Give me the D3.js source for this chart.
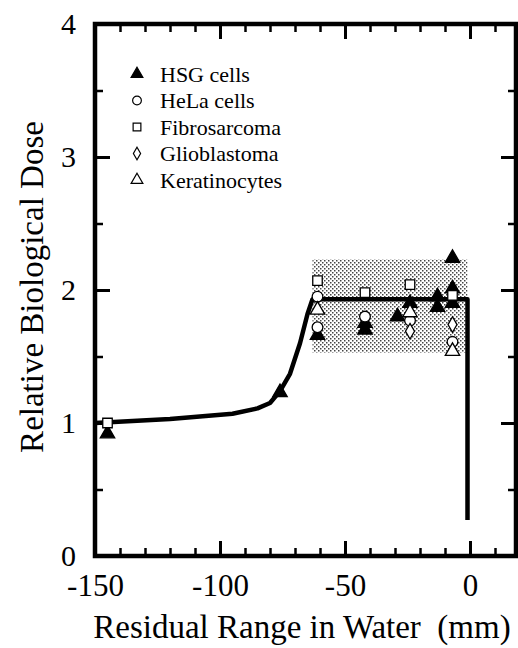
<!DOCTYPE html>
<html>
<head>
<meta charset="utf-8">
<script src="https://cdn.jsdelivr.net/npm/d3@7"></script>
<style>
  body { margin: 0; background: #fff; }
  svg, svg text { font-family: "Liberation Serif", "DejaVu Serif", serif; }
</style>
</head>
<body>
<svg id="chart"></svg>
<script>
// data
const curve = [
  [-150, 1.00], [-120, 1.03], [-95, 1.07], [-85, 1.11], [-80, 1.15],
  [-76, 1.24], [-72, 1.37], [-68, 1.60], [-65, 1.82], [-63, 1.93],
  [-1, 1.93], [-1, 0.27]
];
const band = { x0: -63, x1: -1, y0: 1.53, y1: 2.23 };

const hsg = [[-145, 0.92], [-76, 1.23], [-61, 1.66], [-42, 1.75], [-42, 1.70], [-29, 1.80],
  [-24, 1.90], [-13, 1.95], [-13, 1.87], [-7, 2.24], [-7, 2.01], [-7, 1.90]];
const hela = [[-61, 1.95], [-61, 1.72], [-42, 1.80], [-24, 1.77], [-7, 1.61]];
const fibro = [[-145, 1.00], [-61, 2.07], [-42, 1.98], [-24, 2.04], [-7, 1.96]];
const glio = [[-24, 1.69], [-7, 1.74]];
const kera = [[-61, 1.85], [-24, 1.83], [-7, 1.54]];

const series = [
  { name: "HSG cells", data: hsg, sym: d3.symbolTriangle, fill: "#000" },
  { name: "HeLa cells", data: hela, sym: d3.symbolCircle, fill: "#fff" },
  { name: "Fibrosarcoma", data: fibro, sym: d3.symbolSquare, fill: "#fff" },
  { name: "Glioblastoma", data: glio, sym: d3.symbolDiamond, fill: "#fff" },
  { name: "Keratinocytes", data: kera, sym: d3.symbolTriangle, fill: "#fff" }
];

const xMajor = [-150, -100, -50, 0];
const xMinor = d3.range(-150, 11, 10);
const yMajor = [0, 1, 2, 3, 4];
const yMinor = d3.range(0, 4.01, 0.5);

const serif = '"Liberation Serif", "DejaVu Serif", serif';
const width = 518, height = 648;
const svg = d3.select("#chart").attr("width", width).attr("height", height);

const x = d3.scaleLinear().domain([-150, 18.4]).range([95, 516]);
const y = d3.scaleLinear().domain([0, 4]).range([556, 24]);

// stipple pattern for the shaded band
const defs = svg.append("defs");
const pat = defs.append("pattern").attr("id", "dots")
  .attr("width", 4).attr("height", 4).attr("patternUnits", "userSpaceOnUse");
pat.append("rect").attr("x", 0).attr("y", 0).attr("width", 1.5).attr("height", 1.5).attr("fill", "#444");
pat.append("rect").attr("x", 2).attr("y", 2).attr("width", 1.5).attr("height", 1.5).attr("fill", "#444");

svg.append("rect")
  .attr("x", x(band.x0)).attr("y", y(band.y1))
  .attr("width", x(band.x1) - x(band.x0)).attr("height", y(band.y0) - y(band.y1))
  .attr("fill", "url(#dots)");

// axes: ticks point inward
function styleAxis(g, w, fs) {
  g.attr("font-family", serif);
  g.select(".domain").remove();
  g.selectAll(".tick line").attr("stroke", "#000").attr("stroke-width", w);
  g.selectAll("text").attr("fill", "#000").attr("font-size", fs || 31).attr("font-family", serif);
}
const x0 = x.range()[0], x1 = x.range()[1], y0 = y.range()[0], y1 = y.range()[1];
const plain = d => String(d);

svg.append("g").attr("transform", `translate(0,${y0})`)
  .call(d3.axisBottom(x).tickValues(xMinor).tickSize(-8).tickFormat(""))
  .call(g => styleAxis(g, 2.5));
svg.append("g").attr("transform", `translate(0,${y0})`)
  .call(d3.axisBottom(x).tickValues(xMajor).tickSize(-15).tickPadding(18).tickFormat(plain))
  .call(g => styleAxis(g, 3, 31));
svg.append("g").attr("transform", `translate(0,${y1})`)
  .call(d3.axisTop(x).tickValues(xMinor).tickSize(-8).tickFormat(""))
  .call(g => styleAxis(g, 2.5));
svg.append("g").attr("transform", `translate(0,${y1})`)
  .call(d3.axisTop(x).tickValues(xMajor).tickSize(-15).tickFormat(""))
  .call(g => styleAxis(g, 3));

svg.append("g").attr("transform", `translate(${x0},0)`)
  .call(d3.axisLeft(y).tickValues(yMinor).tickSize(-8).tickFormat(""))
  .call(g => styleAxis(g, 2.5));
svg.append("g").attr("transform", `translate(${x0},0)`)
  .call(d3.axisLeft(y).tickValues(yMajor).tickSize(-15).tickPadding(19).tickFormat(plain))
  .call(g => styleAxis(g, 3, 30));
svg.append("g").attr("transform", `translate(${x1},0)`)
  .call(d3.axisRight(y).tickValues(yMinor).tickSize(-8).tickFormat(""))
  .call(g => styleAxis(g, 2.5));
svg.append("g").attr("transform", `translate(${x1},0)`)
  .call(d3.axisRight(y).tickValues(yMajor).tickSize(-15).tickFormat(""))
  .call(g => styleAxis(g, 3));

// frame
svg.append("rect")
  .attr("x", x0).attr("y", y1).attr("width", x1 - x0).attr("height", y0 - y1)
  .attr("fill", "none").attr("stroke", "#000").attr("stroke-width", 4.5);

// model curve
svg.append("path")
  .datum(curve)
  .attr("fill", "none")
  .attr("stroke", "#000")
  .attr("stroke-width", 4.5)
  .attr("stroke-linejoin", "round")
  .attr("d", d3.line().x(d => x(d[0])).y(d => y(d[1])));

// data points
series.forEach(s => {
  svg.append("g").selectAll("path")
    .data(s.data)
    .join("path")
    .attr("transform", d => `translate(${x(d[0])},${y(d[1])})`)
    .attr("d", d3.symbol().type(s.sym).size(s.sym === d3.symbolDiamond ? 70 : 90))
    .attr("fill", s.fill)
    .attr("stroke", "#000")
    .attr("stroke-width", 1.3);
});

// legend
const legend = svg.append("g");
series.forEach((s, i) => {
  const ly = 74 + i * 26.5;
  legend.append("path")
    .attr("transform", `translate(137,${ly})`)
    .attr("d", d3.symbol().type(s.sym).size(s.sym === d3.symbolDiamond ? 45 : 60))
    .attr("fill", s.fill)
    .attr("stroke", "#000")
    .attr("stroke-width", 1.2);
  legend.append("text")
    .attr("x", 160).attr("y", ly)
    .attr("dy", "0.35em")
    .attr("font-size", 22)
    .attr("font-family", serif)
    .text(s.name);
});

// axis titles
svg.append("text")
  .attr("x", 302).attr("y", 638)
  .attr("text-anchor", "middle")
  .attr("font-size", 33)
  .attr("font-family", serif)
  .attr("xml:space", "preserve")
  .text("Residual Range in Water  (mm)");

svg.append("text")
  .attr("transform", "translate(43,287) rotate(-90)")
  .attr("text-anchor", "middle")
  .attr("font-size", 33)
  .attr("font-family", serif)
  .text("Relative Biological Dose");
</script>
</body>
</html>
